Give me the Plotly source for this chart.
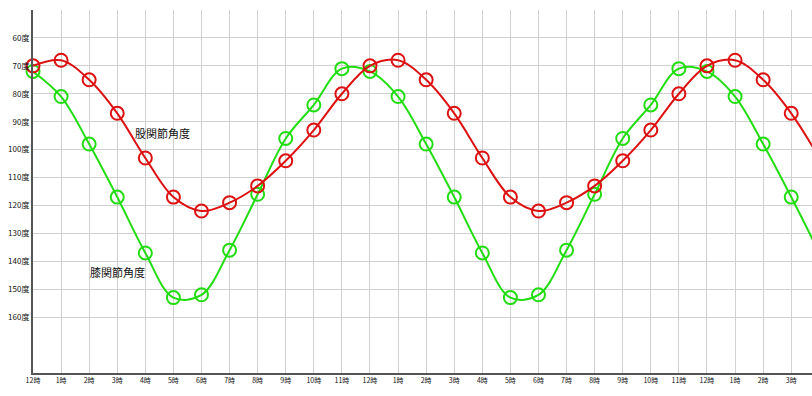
import plotly.graph_objects as go

hours = ["12時", "1時", "2時", "3時", "4時", "5時", "6時", "7時", "8時", "9時", "10時", "11時",
         "12時", "1時", "2時", "3時", "4時", "5時", "6時", "7時", "8時", "9時", "10時", "11時",
         "12時", "1時", "2時", "3時", "4時"]
hip = [70, 68, 75, 87, 103, 117, 122, 119, 113, 104, 93, 80,
       70, 68, 75, 87, 103, 117, 122, 119, 113, 104, 93, 80,
       70, 68, 75, 87, 103]
knee = [72, 81, 98, 117, 137, 153, 152, 136, 116, 96, 84, 71,
        72, 81, 98, 117, 137, 153, 152, 136, 116, 96, 84, 71,
        72, 81, 98, 117, 137]
y_ticks = [60, 70, 80, 90, 100, 110, 120, 130, 140, 150, 160]
y_tick_text = [f"{v}度" for v in y_ticks]

xs = list(range(len(hours)))

fig = go.Figure()
fig.add_trace(go.Scatter(
    x=xs, y=knee, mode="lines+markers", cliponaxis=False,
    line=dict(color="#22dd11", width=2, shape="spline", smoothing=1),
    marker=dict(symbol="circle-open", size=13, color="#22dd11", line=dict(width=2)),
    showlegend=False))
fig.add_trace(go.Scatter(
    x=xs, y=hip, mode="lines+markers", cliponaxis=False,
    line=dict(color="#dd1111", width=2, shape="spline", smoothing=1),
    marker=dict(symbol="circle-open", size=13, color="#dd1111", line=dict(width=2)),
    showlegend=False))

fig.add_annotation(x=4.6, y=94, text="股関節角度", showarrow=False,
                   font=dict(family="Noto Sans CJK JP", size=11, color="#111111"))
fig.add_annotation(x=3.0, y=144, text="膝関節角度", showarrow=False,
                   font=dict(family="Noto Sans CJK JP", size=11, color="#111111"))

fig.update_layout(
    width=812, height=396,
    margin=dict(l=33, r=0, t=10, b=23),
    paper_bgcolor="white", plot_bgcolor="white",
    font=dict(family="Noto Sans CJK JP", size=9, color="#111111"),
    xaxis=dict(range=[0, 27.74], tickmode="array", tickvals=xs, ticktext=hours,
               showgrid=True, gridcolor="#d0d0d0", gridwidth=1,
               showline=True, linecolor="#555555", linewidth=2,
               zeroline=False, ticks="", tickfont=dict(size=7)),
    yaxis=dict(range=[180, 50], tickmode="array", tickvals=y_ticks, ticktext=y_tick_text,
               showgrid=True, gridcolor="#d0d0d0", gridwidth=1,
               showline=True, linecolor="#555555", linewidth=2,
               zeroline=False, ticks="", tickfont=dict(size=8)),
)

fig.write_html("out.html", config={"displayModeBar": False},
               post_script="document.body.style.margin='0';document.body.style.overflow='hidden';")
